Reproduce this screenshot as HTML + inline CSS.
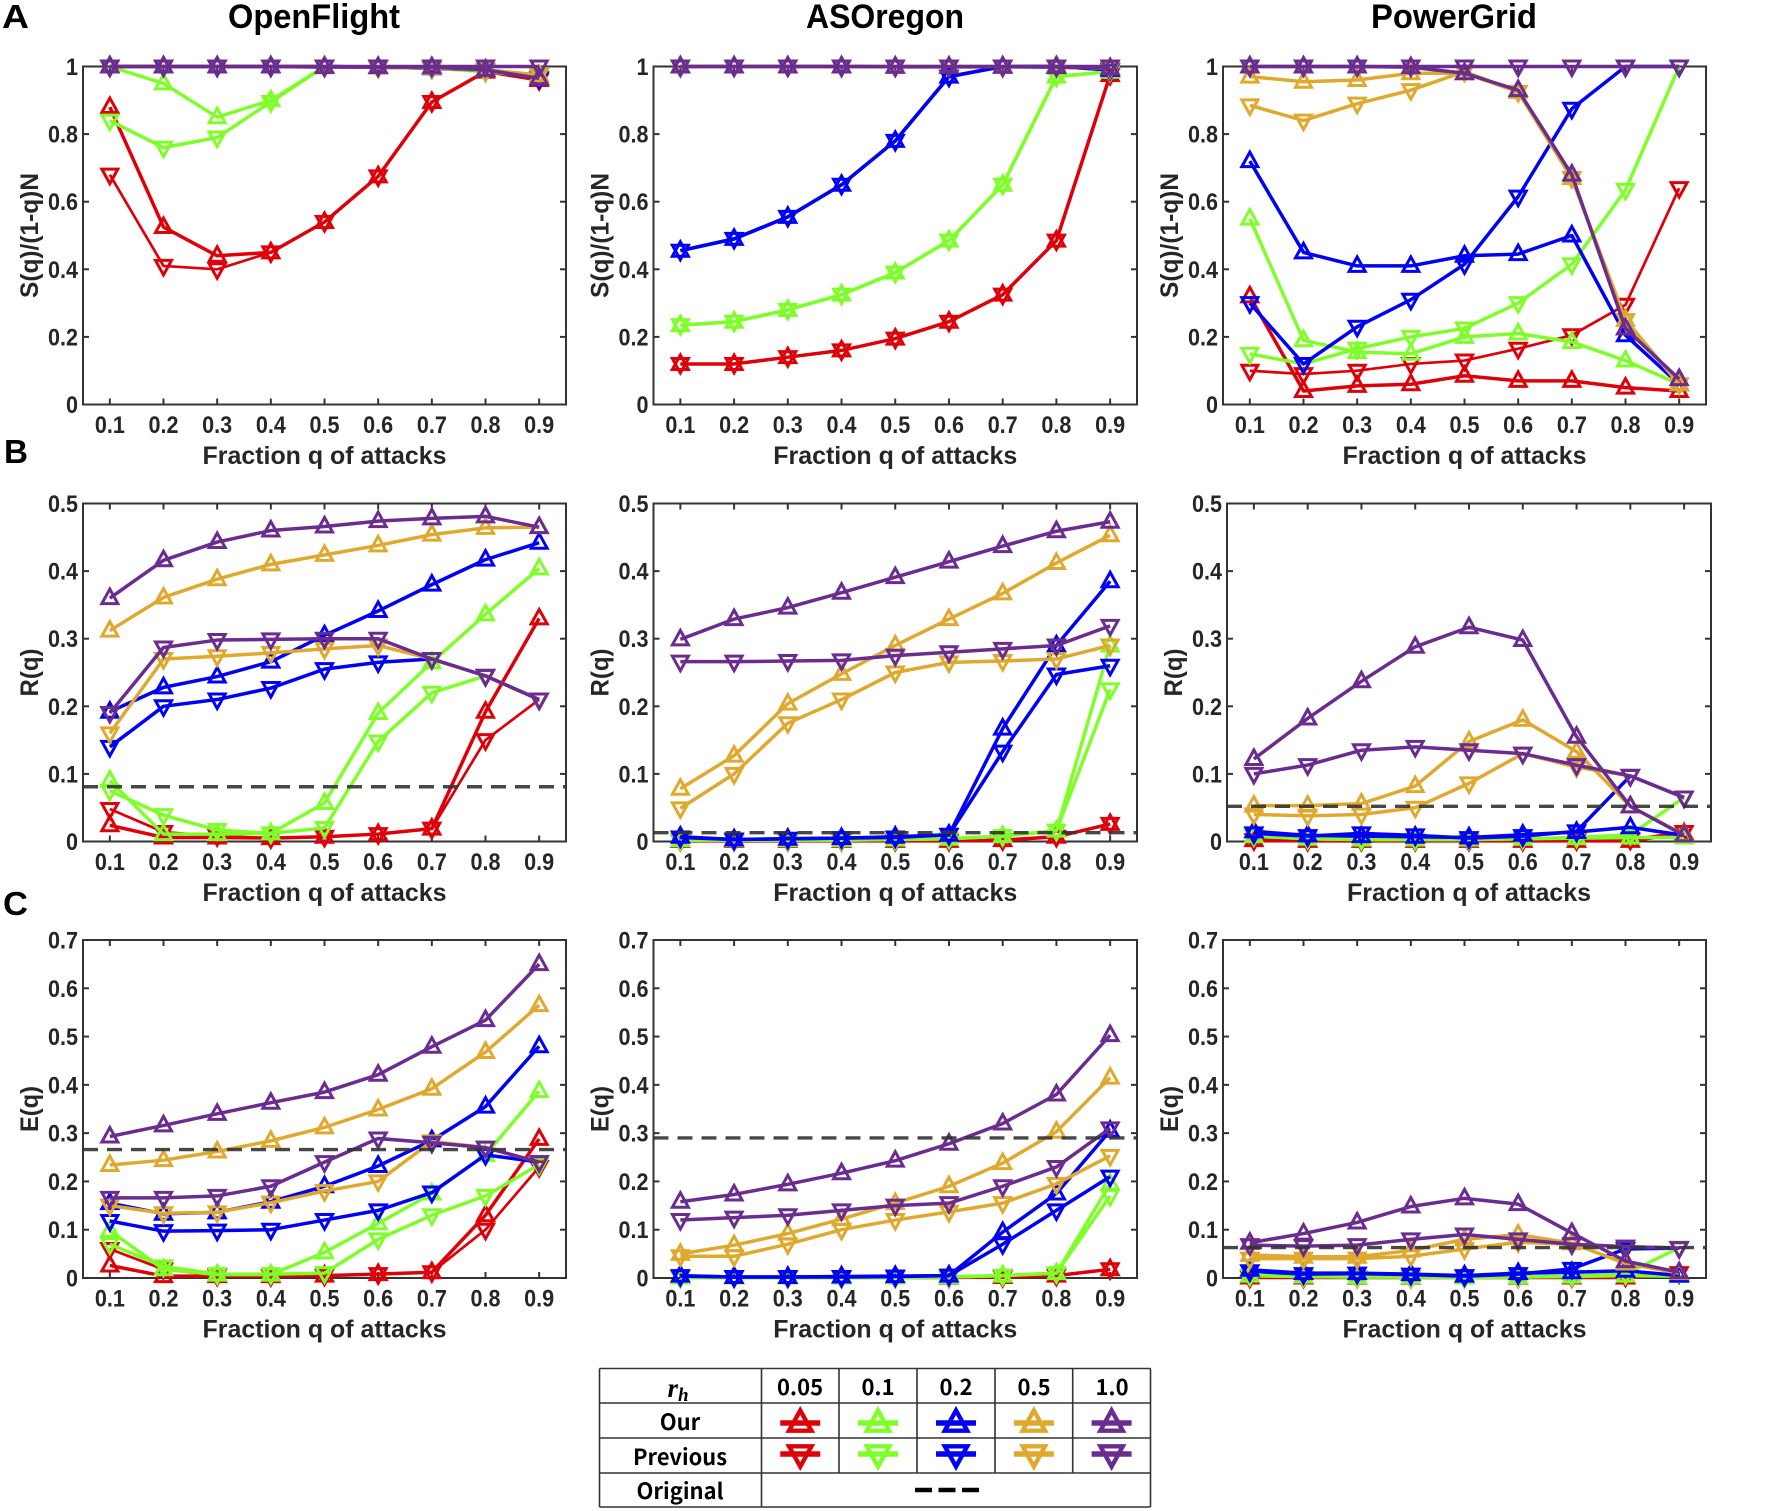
<!DOCTYPE html>
<html lang="en">
<head>
<meta charset="utf-8">
<title>Robustness comparison charts</title>
<style>
html,body{margin:0;padding:0;background:#fff;}
svg{display:block;}
text{font-family:"Liberation Sans",sans-serif;font-weight:700;fill:#262626;}
.title{font-size:34px;fill:#000;}
.letter{font-size:33px;fill:#000;}
.cell{font-family:"Noto Sans CJK KR","Liberation Sans",sans-serif;font-size:22px;font-weight:700;fill:#000;text-anchor:middle;}
</style>
</head>
<body>
<svg id="fig" xmlns="http://www.w3.org/2000/svg" width="1772" height="1511" viewBox="0 0 1772 1511">
  <rect width="1772" height="1511" fill="#fff"/>
  <text class="letter" x="2" y="28" textLength="27" lengthAdjust="spacingAndGlyphs">A</text>
  <text class="letter" x="4" y="463" textLength="24" lengthAdjust="spacingAndGlyphs">B</text>
  <text class="letter" x="3" y="915" textLength="25" lengthAdjust="spacingAndGlyphs">C</text>
  <text class="title" x="228" y="28" textLength="172" lengthAdjust="spacingAndGlyphs">OpenFlight</text>
  <text class="title" x="806" y="28" textLength="158" lengthAdjust="spacingAndGlyphs">ASOregon</text>
  <text class="title" x="1371" y="28" textLength="166" lengthAdjust="spacingAndGlyphs">PowerGrid</text>
  <g id="panels"></g>
  <g id="legend">
    <text class="cell" x="678" y="1397" style="font-family:'Liberation Serif',serif;font-style:italic;font-size:27px;">r<tspan dy="4" font-size="19">h</tspan></text>
    <text class="cell" x="800" y="1395">0.05</text>
    <text class="cell" x="878" y="1395">0.1</text>
    <text class="cell" x="956" y="1395">0.2</text>
    <text class="cell" x="1034" y="1395">0.5</text>
    <text class="cell" x="1112" y="1395">1.0</text>
    <text class="cell" x="680" y="1430">Our</text>
    <text class="cell" x="680" y="1465" textLength="94" lengthAdjust="spacingAndGlyphs">Previous</text>
    <text class="cell" x="680" y="1499" textLength="87" lengthAdjust="spacingAndGlyphs">Original</text>
  </g>
</svg>
<script>
const NS = 'http://www.w3.org/2000/svg';

/* shared axis data */
const xCategories = [0.1, 0.2, 0.3, 0.4, 0.5, 0.6, 0.7, 0.8, 0.9];
const xTickLabels = ['0.1', '0.2', '0.3', '0.4', '0.5', '0.6', '0.7', '0.8', '0.9'];
const yTicksS = [0, 0.2, 0.4, 0.6, 0.8, 1];
const yTickLabelsS = ['0', '0.2', '0.4', '0.6', '0.8', '1'];
const yTicksR = [0, 0.1, 0.2, 0.3, 0.4, 0.5];
const yTickLabelsR = ['0', '0.1', '0.2', '0.3', '0.4', '0.5'];
const yTicksE = [0, 0.1, 0.2, 0.3, 0.4, 0.5, 0.6, 0.7];
const yTickLabelsE = ['0', '0.1', '0.2', '0.3', '0.4', '0.5', '0.6', '0.7'];

/* A: OpenFlight S(q) */
const sOfOurRed = [0.88, 0.525, 0.44, 0.45, 0.54, 0.675, 0.895, 0.985, 0.96];
const sOfPrevRed = [0.68, 0.41, 0.40, 0.45, 0.54, 0.675, 0.895, 0.985, 0.96];
const sOfOurGreen = [1, 0.95, 0.85, 0.90, 1, 0.998, 0.995, 0.99, 0.97];
const sOfPrevGreen = [0.84, 0.76, 0.79, 0.895, 1, 0.998, 0.995, 0.985, 0.97];
const sOfOurBlue = [1, 1, 1, 1, 1, 0.998, 0.995, 0.99, 0.965];
const sOfPrevBlue = [1, 1, 1, 1, 1, 0.998, 0.995, 0.99, 0.965];
const sOfOurOrange = [1, 1, 1, 1, 1, 0.997, 0.996, 0.99, 0.975];
const sOfPrevOrange = [1, 1, 1, 1, 1, 0.997, 0.996, 0.99, 0.975];
const sOfOurPurple = [1, 1, 1, 1, 0.998, 0.998, 0.998, 0.99, 0.965];
const sOfPrevPurple = [1, 1, 1, 1, 1, 1, 1, 1, 1];

/* A: ASOregon S(q) */
const sAsOurRed = [0.12, 0.12, 0.14, 0.16, 0.195, 0.245, 0.325, 0.485, 0.975];
const sAsPrevRed = [0.12, 0.12, 0.14, 0.16, 0.195, 0.245, 0.325, 0.485, 0.975];
const sAsOurGreen = [0.235, 0.245, 0.28, 0.325, 0.39, 0.485, 0.65, 0.97, 0.985];
const sAsPrevGreen = [0.235, 0.245, 0.28, 0.325, 0.39, 0.485, 0.65, 0.97, 0.985];
const sAsOurBlue = [0.455, 0.49, 0.555, 0.65, 0.78, 0.97, 1, 1, 0.99];
const sAsPrevBlue = [0.455, 0.49, 0.555, 0.65, 0.78, 0.97, 1, 1, 0.99];
const sAsOurOrange = [1, 1, 1, 1, 1, 1, 1, 0.998, 0.995];
const sAsPrevOrange = [1, 1, 1, 1, 1, 1, 1, 0.998, 0.995];
const sAsOurPurple = [1, 1, 1, 1, 0.999, 0.999, 0.999, 0.998, 0.995];
const sAsPrevPurple = [1, 1, 1, 1, 1, 1, 1, 1, 1];

/* A: PowerGrid S(q) */
const sPgOurRed = [0.32, 0.04, 0.055, 0.06, 0.085, 0.07, 0.07, 0.05, 0.04];
const sPgPrevRed = [0.10, 0.09, 0.10, 0.12, 0.13, 0.165, 0.205, 0.295, 0.64];
const sPgOurGreen = [0.55, 0.19, 0.155, 0.15, 0.20, 0.21, 0.185, 0.13, 0.06];
const sPgPrevGreen = [0.15, 0.12, 0.165, 0.20, 0.225, 0.30, 0.415, 0.635, 1];
const sPgOurBlue = [0.72, 0.45, 0.41, 0.41, 0.44, 0.445, 0.50, 0.205, 0.06];
const sPgPrevBlue = [0.30, 0.12, 0.23, 0.31, 0.415, 0.615, 0.875, 1, 1];
const sPgOurOrange = [0.97, 0.955, 0.96, 0.98, 0.98, 0.925, 0.67, 0.25, 0.06];
const sPgPrevOrange = [0.885, 0.84, 0.89, 0.93, 0.985, 0.925, 0.67, 0.25, 0.06];
const sPgOurPurple = [1, 1, 1, 0.998, 0.98, 0.93, 0.68, 0.225, 0.075];
const sPgPrevPurple = [1, 1, 1, 1, 1, 1, 1, 1, 1];

/* B: OpenFlight R(q) */
const rOfOurRed = [0.024, 0.006, 0.006, 0.005, 0.007, 0.011, 0.019, 0.192, 0.33];
const rOfPrevRed = [0.048, 0.014, 0.008, 0.005, 0.007, 0.011, 0.019, 0.15, 0.21];
const rOfOurGreen = [0.09, 0.011, 0.011, 0.012, 0.057, 0.19, 0.265, 0.336, 0.404];
const rOfPrevGreen = [0.075, 0.039, 0.017, 0.012, 0.02, 0.148, 0.22, 0.245, 0.21];
const rOfOurBlue = [0.192, 0.228, 0.244, 0.266, 0.305, 0.341, 0.38, 0.417, 0.442];
const rOfPrevBlue = [0.14, 0.20, 0.21, 0.227, 0.255, 0.265, 0.27, 0.245, 0.21];
const rOfOurOrange = [0.312, 0.361, 0.388, 0.41, 0.424, 0.438, 0.454, 0.464, 0.465];
const rOfPrevOrange = [0.16, 0.27, 0.274, 0.279, 0.285, 0.29, 0.27, 0.245, 0.21];
const rOfOurPurple = [0.36, 0.416, 0.443, 0.46, 0.466, 0.474, 0.478, 0.481, 0.465];
const rOfPrevPurple = [0.19, 0.287, 0.298, 0.299, 0.30, 0.30, 0.27, 0.245, 0.21];
const rOfOriginal = [0.081];

/* B: ASOregon R(q) */
const rAsOurRed = [0.001, 0.001, 0.001, 0.001, 0.001, 0.001, 0.002, 0.007, 0.026];
const rAsPrevRed = [0.001, 0.001, 0.001, 0.001, 0.001, 0.001, 0.002, 0.007, 0.026];
const rAsOurGreen = [0.002, 0.002, 0.002, 0.002, 0.003, 0.004, 0.008, 0.016, 0.29];
const rAsPrevGreen = [0.002, 0.002, 0.002, 0.002, 0.003, 0.004, 0.008, 0.016, 0.225];
const rAsOurBlue = [0.007, 0.003, 0.004, 0.005, 0.007, 0.01, 0.167, 0.29, 0.385];
const rAsPrevBlue = [0.006, 0.003, 0.004, 0.005, 0.006, 0.01, 0.133, 0.247, 0.26];
const rAsOurOrange = [0.078, 0.127, 0.204, 0.248, 0.29, 0.329, 0.367, 0.412, 0.453];
const rAsPrevOrange = [0.049, 0.10, 0.175, 0.21, 0.25, 0.265, 0.267, 0.27, 0.29];
const rAsOurPurple = [0.299, 0.329, 0.346, 0.368, 0.391, 0.414, 0.437, 0.459, 0.473];
const rAsPrevPurple = [0.266, 0.266, 0.267, 0.268, 0.275, 0.28, 0.285, 0.29, 0.319];
const rAsOriginal = [0.013];

/* B: PowerGrid R(q) */
const rPgOurRed = [0.002, 0.001, 0.001, 0.001, 0.001, 0.001, 0.001, 0.001, 0.012];
const rPgPrevRed = [0.002, 0.001, 0.001, 0.001, 0.001, 0.001, 0.002, 0.003, 0.014];
const rPgOurGreen = [0.008, 0.004, 0.003, 0.003, 0.003, 0.004, 0.005, 0.006, 0.006];
const rPgPrevGreen = [0.008, 0.004, 0.003, 0.003, 0.003, 0.004, 0.006, 0.01, 0.065];
const rPgOurBlue = [0.015, 0.009, 0.008, 0.007, 0.006, 0.01, 0.014, 0.021, 0.009];
const rPgPrevBlue = [0.012, 0.008, 0.012, 0.009, 0.005, 0.008, 0.015, 0.097, 0.065];
const rPgOurOrange = [0.053, 0.053, 0.056, 0.082, 0.148, 0.18, 0.133, 0.052, 0.01];
const rPgPrevOrange = [0.04, 0.038, 0.04, 0.05, 0.086, 0.13, 0.11, 0.097, 0.065];
const rPgOurPurple = [0.122, 0.182, 0.237, 0.288, 0.317, 0.298, 0.155, 0.052, 0.009];
const rPgPrevPurple = [0.10, 0.113, 0.135, 0.14, 0.135, 0.13, 0.113, 0.097, 0.065];
const rPgOriginal = [0.052];

/* C: OpenFlight E(q) */
const eOfOurRed = [0.026, 0.004, 0.004, 0.004, 0.005, 0.008, 0.012, 0.13, 0.288];
const eOfPrevRed = [0.06, 0.018, 0.005, 0.004, 0.005, 0.008, 0.012, 0.10, 0.23];
const eOfOurGreen = [0.098, 0.018, 0.007, 0.007, 0.053, 0.113, 0.175, 0.255, 0.387];
const eOfPrevGreen = [0.07, 0.024, 0.008, 0.008, 0.01, 0.08, 0.13, 0.17, 0.235];
const eOfOurBlue = [0.155, 0.133, 0.136, 0.158, 0.19, 0.232, 0.285, 0.355, 0.48];
const eOfPrevBlue = [0.118, 0.097, 0.098, 0.10, 0.12, 0.14, 0.177, 0.255, 0.24];
const eOfOurOrange = [0.234, 0.244, 0.262, 0.284, 0.312, 0.349, 0.392, 0.468, 0.565];
const eOfPrevOrange = [0.15, 0.134, 0.136, 0.156, 0.18, 0.20, 0.283, 0.27, 0.24];
const eOfOurPurple = [0.293, 0.316, 0.34, 0.363, 0.385, 0.421, 0.479, 0.534, 0.65];
const eOfPrevPurple = [0.166, 0.166, 0.17, 0.19, 0.24, 0.289, 0.28, 0.27, 0.24];
const eOfOriginal = [0.266];

/* C: ASOregon E(q) */
const eAsOurRed = [0.001, 0.001, 0.001, 0.001, 0.001, 0.001, 0.002, 0.005, 0.018];
const eAsPrevRed = [0.001, 0.001, 0.001, 0.001, 0.001, 0.001, 0.002, 0.005, 0.018];
const eAsOurGreen = [0.001, 0.001, 0.001, 0.001, 0.001, 0.002, 0.005, 0.01, 0.195];
const eAsPrevGreen = [0.001, 0.001, 0.001, 0.001, 0.001, 0.002, 0.005, 0.01, 0.17];
const eAsOurBlue = [0.005, 0.002, 0.002, 0.003, 0.004, 0.005, 0.095, 0.175, 0.305];
const eAsPrevBlue = [0.004, 0.002, 0.002, 0.002, 0.003, 0.005, 0.07, 0.14, 0.21];
const eAsOurOrange = [0.05, 0.068, 0.092, 0.122, 0.155, 0.19, 0.238, 0.303, 0.415];
const eAsPrevOrange = [0.045, 0.045, 0.07, 0.10, 0.12, 0.137, 0.155, 0.195, 0.253];
const eAsOurPurple = [0.158, 0.173, 0.194, 0.217, 0.243, 0.278, 0.32, 0.38, 0.503];
const eAsPrevPurple = [0.12, 0.125, 0.13, 0.14, 0.15, 0.155, 0.19, 0.23, 0.31];
const eAsOriginal = [0.29];

/* C: PowerGrid E(q) */
const ePgOurRed = [0.001, 0.001, 0.001, 0.001, 0.001, 0.001, 0.001, 0.001, 0.008];
const ePgPrevRed = [0.001, 0.001, 0.001, 0.001, 0.001, 0.001, 0.002, 0.003, 0.01];
const ePgOurGreen = [0.005, 0.003, 0.002, 0.002, 0.001, 0.002, 0.003, 0.005, 0.004];
const ePgPrevGreen = [0.005, 0.003, 0.002, 0.002, 0.001, 0.002, 0.004, 0.008, 0.063];
const ePgOurBlue = [0.017, 0.01, 0.01, 0.008, 0.005, 0.01, 0.012, 0.015, 0.005];
const ePgPrevBlue = [0.014, 0.008, 0.009, 0.007, 0.004, 0.008, 0.019, 0.06, 0.062];
const ePgOurOrange = [0.048, 0.044, 0.044, 0.057, 0.08, 0.09, 0.072, 0.03, 0.01];
const ePgPrevOrange = [0.04, 0.04, 0.04, 0.045, 0.06, 0.074, 0.07, 0.065, 0.062];
const ePgOurPurple = [0.073, 0.092, 0.115, 0.148, 0.165, 0.153, 0.093, 0.035, 0.012];
const ePgPrevPurple = [0.068, 0.066, 0.068, 0.08, 0.09, 0.08, 0.07, 0.065, 0.062];
const ePgOriginal = [0.063];

const colorNames = ['red', 'green', 'blue', 'orange', 'purple'];
const colorValues = ['#DE0008', '#7FFF2A', '#0000F5', '#DFA92F', '#6B2C8F'];

const panelList = [
  {id:'openflight-s', box:[83,566,66.5,404.5], ymax:1, ticks:yTicksS, labels:yTickLabelsS, yLabel:'S(q)/(1-q)N', yLen:125, base:false,
   series:[[sOfOurRed,sOfPrevRed],[sOfOurGreen,sOfPrevGreen],[sOfOurBlue,sOfPrevBlue],[sOfOurOrange,sOfPrevOrange],[sOfOurPurple,sOfPrevPurple]]},
  {id:'asoregon-s', box:[653.5,1137,66.5,404.5], ymax:1, ticks:yTicksS, labels:yTickLabelsS, yLabel:'S(q)/(1-q)N', yLen:125, base:false,
   series:[[sAsOurRed,sAsPrevRed],[sAsOurGreen,sAsPrevGreen],[sAsOurBlue,sAsPrevBlue],[sAsOurOrange,sAsPrevOrange],[sAsOurPurple,sAsPrevPurple]]},
  {id:'powergrid-s', box:[1223,1706,66.5,404.5], ymax:1, ticks:yTicksS, labels:yTickLabelsS, yLabel:'S(q)/(1-q)N', yLen:125, base:false,
   series:[[sPgOurRed,sPgPrevRed],[sPgOurGreen,sPgPrevGreen],[sPgOurBlue,sPgPrevBlue],[sPgOurOrange,sPgPrevOrange],[sPgOurPurple,sPgPrevPurple]]},
  {id:'openflight-r', box:[83,566,503.5,841.5], ymax:0.5, ticks:yTicksR, labels:yTickLabelsR, yLabel:'R(q)', yLen:48, base:rOfOriginal,
   series:[[rOfOurRed,rOfPrevRed],[rOfOurGreen,rOfPrevGreen],[rOfOurBlue,rOfPrevBlue],[rOfOurOrange,rOfPrevOrange],[rOfOurPurple,rOfPrevPurple]]},
  {id:'asoregon-r', box:[653.5,1137,503.5,841.5], ymax:0.5, ticks:yTicksR, labels:yTickLabelsR, yLabel:'R(q)', yLen:48, base:rAsOriginal,
   series:[[rAsOurRed,rAsPrevRed],[rAsOurGreen,rAsPrevGreen],[rAsOurBlue,rAsPrevBlue],[rAsOurOrange,rAsPrevOrange],[rAsOurPurple,rAsPrevPurple]]},
  {id:'powergrid-r', box:[1227,1711,503.5,841.5], ymax:0.5, ticks:yTicksR, labels:yTickLabelsR, yLabel:'R(q)', yLen:48, base:rPgOriginal,
   series:[[rPgOurRed,rPgPrevRed],[rPgOurGreen,rPgPrevGreen],[rPgOurBlue,rPgPrevBlue],[rPgOurOrange,rPgPrevOrange],[rPgOurPurple,rPgPrevPurple]]},
  {id:'openflight-e', box:[83,566,940,1278], ymax:0.7, ticks:yTicksE, labels:yTickLabelsE, yLabel:'E(q)', yLen:46, base:eOfOriginal,
   series:[[eOfOurRed,eOfPrevRed],[eOfOurGreen,eOfPrevGreen],[eOfOurBlue,eOfPrevBlue],[eOfOurOrange,eOfPrevOrange],[eOfOurPurple,eOfPrevPurple]]},
  {id:'asoregon-e', box:[653.5,1137,940,1278], ymax:0.7, ticks:yTicksE, labels:yTickLabelsE, yLabel:'E(q)', yLen:46, base:eAsOriginal,
   series:[[eAsOurRed,eAsPrevRed],[eAsOurGreen,eAsPrevGreen],[eAsOurBlue,eAsPrevBlue],[eAsOurOrange,eAsPrevOrange],[eAsOurPurple,eAsPrevPurple]]},
  {id:'powergrid-e', box:[1223,1706,940,1278], ymax:0.7, ticks:yTicksE, labels:yTickLabelsE, yLabel:'E(q)', yLen:46, base:ePgOriginal,
   series:[[ePgOurRed,ePgPrevRed],[ePgOurGreen,ePgPrevGreen],[ePgOurBlue,ePgPrevBlue],[ePgOurOrange,ePgPrevOrange],[ePgOurPurple,ePgPrevPurple]]}
];

function make(tag, attrs, parent) {
  const el = document.createElementNS(NS, tag);
  Object.keys(attrs).forEach(function (k) { el.setAttribute(k, attrs[k]); });
  parent.appendChild(el);
  return el;
}
function xAxis(v, p) { return p.box[0] + (v - 0.05) / 0.9 * (p.box[1] - p.box[0]); }
function yAxis(v, p) { return p.box[3] - (v / p.ymax) * (p.box[3] - p.box[2]); }
function triangle(cx, cy, up, s) {
  const k = s || 1;
  if (up) return (cx) + ',' + (cy - 9 * k) + ' ' + (cx + 8 * k) + ',' + (cy + 5.5 * k) + ' ' + (cx - 8 * k) + ',' + (cy + 5.5 * k);
  return (cx) + ',' + (cy + 9 * k) + ' ' + (cx + 8 * k) + ',' + (cy - 5.5 * k) + ' ' + (cx - 8 * k) + ',' + (cy - 5.5 * k);
}

function drawPanel(p) {
  const root = document.getElementById('panels');
  const g = make('g', {}, root);
  
  
  const L = p.box[0], R = p.box[1], T = p.box[2], B = p.box[3];

  const frame = make('rect', {x:L, y:T, width:R - L, height:B - T, fill:'#fff', stroke:'#333', 'stroke-width':2}, g);
  
  

  xCategories.forEach(function (c, i) {
    const x = xAxis(c, p);
    const tb = make('line', {x1:x, x2:x, y1:B, y2:B - 6, stroke:'#333', 'stroke-width':2}, g);
    
    
    const tt = make('line', {x1:x, x2:x, y1:T, y2:T + 6, stroke:'#333', 'stroke-width':2}, g);
    
    
    const lab = make('text', {x:x, y:B + 28.5, 'text-anchor':'middle', 'font-size':24, textLength:30, lengthAdjust:'spacingAndGlyphs'}, g);
    lab.textContent = xTickLabels[i];
    
    
  });

  p.ticks.forEach(function (t, i) {
    const y = yAxis(t, p);
    const tl = make('line', {x1:L, x2:L + 6, y1:y, y2:y, stroke:'#333', 'stroke-width':2}, g);
    
    
    const tr = make('line', {x1:R, x2:R - 6, y1:y, y2:y, stroke:'#333', 'stroke-width':2}, g);
    
    
    const txt = p.labels[i];
    const lab = make('text', {x:L - 5, y:y + 8.5, 'text-anchor':'end', 'font-size':24, textLength:txt.length > 1 ? 30 : 12, lengthAdjust:'spacingAndGlyphs'}, g);
    lab.textContent = txt;
    
    
  });

  const xl = make('text', {x:(L + R) / 2, y:B + 59.5, 'text-anchor':'middle', 'font-size':25, textLength:244, lengthAdjust:'spacingAndGlyphs'}, g);
  xl.textContent = 'Fraction q of attacks';
  
  

  const yc = (T + B) / 2, yx = L - 45;
  const yl = make('text', {x:yx, y:yc, 'text-anchor':'middle', 'font-size':25, textLength:p.yLen, lengthAdjust:'spacingAndGlyphs', transform:'rotate(-90 ' + yx + ' ' + yc + ')'}, g);
  yl.textContent = p.yLabel;
  
  

  p.series.forEach(function (pair, ci) {
    pair.forEach(function (values, mi) {
      const sg = make('g', {fill:'none', stroke:colorValues[ci]}, g);
      
      
      const pts = values.map(function (v, i) { return xAxis(xCategories[i], p) + ',' + yAxis(v, p); }).join(' ');
      const line = make('polyline', {points:pts, 'stroke-width':(ci === 0 && mi === 1) ? 2.7 : 3.5, 'stroke-linejoin':'round'}, sg);
      
      
      values.forEach(function (v, i) {
        const m = make('polygon', {points:triangle(xAxis(xCategories[i], p), yAxis(v, p), mi === 0), 'stroke-width':3}, sg);
        
        
      });
    });
  });

  if (p.base) {
    const y = yAxis(p.base[0], p);
    const d = make('line', {x1:L, x2:R, y1:y, y2:y, stroke:'#333', 'stroke-opacity':0.9, 'stroke-width':3.4, 'stroke-dasharray':'15 9'}, g);
    
    
  }
}
panelList.forEach(drawPanel);

/* legend table */
const legendColEdges = [599.5, 761.5, 839, 917, 995, 1072.7, 1150.5];
const legendRowEdges = [1368.5, 1403, 1438, 1473, 1507];
(function drawLegend() {
  const lg = document.getElementById('legend');
  const grid = make('g', {stroke:'#333', 'stroke-width':1.6}, lg);
  
  
  legendRowEdges.forEach(function (y) {
    const l = make('line', {x1:legendColEdges[0], x2:legendColEdges[6], y1:y, y2:y}, grid);
    
    
  });
  legendColEdges.forEach(function (x, i) {
    const bottom = (i === 0 || i === 1 || i === 6) ? legendRowEdges[4] : legendRowEdges[3];
    const l = make('line', {x1:x, x2:x, y1:legendRowEdges[0], y2:bottom}, grid);
    
    
  });
  colorNames.forEach(function (name, i) {
    const cx = (legendColEdges[i + 1] + legendColEdges[i + 2]) / 2;
    [0, 1].forEach(function (mi) {
      const cy = mi === 0 ? 1423 : 1454;
      const s = make('g', {fill:'none', stroke:colorValues[i]}, lg);
      
      
      const bar = make('line', {x1:cx - 20, x2:cx + 20, y1:cy, y2:cy, 'stroke-width':5.5}, s);
      
      
      const tri = make('polygon', {points:triangle(cx, cy, mi === 0, 1.4), 'stroke-width':4.4}, s);
      
      
    });
  });
  const dash = make('line', {x1:915, x2:979, y1:1490, y2:1490, stroke:'#000', 'stroke-width':4.5, 'stroke-dasharray':'17 6.5'}, lg);
  
  
})();
</script>
</body>
</html>
